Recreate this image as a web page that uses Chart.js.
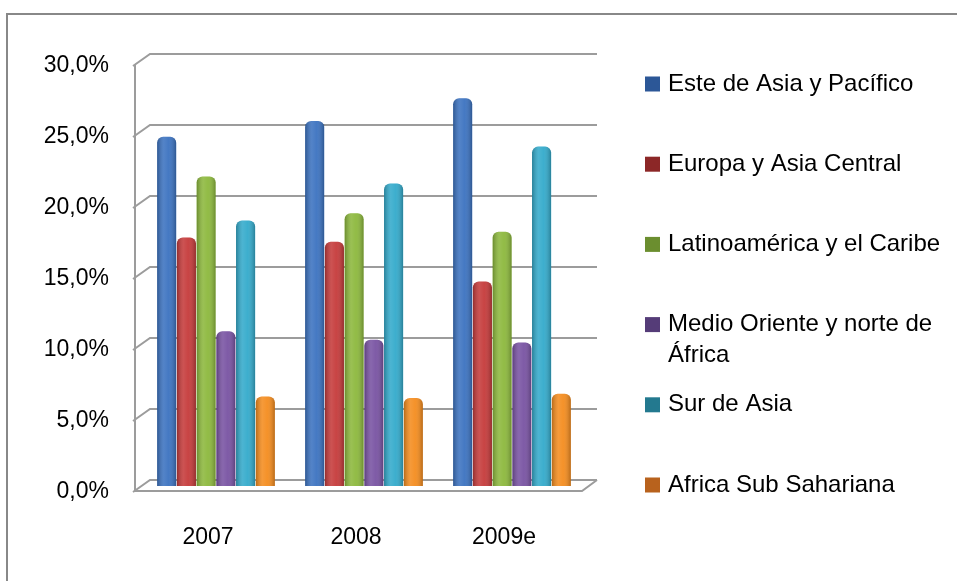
<!DOCTYPE html>
<html>
<head>
<meta charset="utf-8">
<script src="https://cdn.jsdelivr.net/npm/chart.js@4"></script>
<style>
  html, body { margin: 0; padding: 0; background: #fff; }
  #wrap { width: 957px; height: 581px; position: relative; }
</style>
</head>
<body>
<div id="wrap"><canvas id="chart"></canvas></div>
<script>
// data
const years = ['2007', '2008', '2009e'];
const esteAsiaPacifico = [24.6, 25.7, 27.3];
const europaAsiaCentral = [17.5, 17.2, 14.4];
const latinoamericaCaribe = [21.8, 19.2, 17.9];
const medioOrienteNorteAfrica = [10.9, 10.3, 10.1];
const surDeAsia = [18.7, 21.3, 23.9];
const africaSubSahariana = [6.3, 6.2, 6.5];

const seriesNames = [
    'Este de Asia y Pacífico',
    'Europa y Asia Central',
    'Latinoamérica y el Caribe',
    ['Medio Oriente y norte de', 'África'],
    'Sur de Asia',
    'Africa Sub Sahariana'
];
const seriesValues = [esteAsiaPacifico, europaAsiaCentral, latinoamericaCaribe,
    medioOrienteNorteAfrica, surDeAsia, africaSubSahariana];

const barColors = ['#3B72C0', '#C53A3A', '#8CB83C', '#7852A2', '#33AACB', '#F48C1E'];
const legendColors = ['#2C5797', '#8C2727', '#6B8E2F', '#553C78', '#23798F', '#B8621D'];

const FONT = "'Liberation Sans', Arial, sans-serif";

// outer frame, only top and left edges are visible
const framePlugin = {
    id: 'frame',
    beforeDraw(chart) {
        const ctx = chart.ctx;
        ctx.save();
        ctx.strokeStyle = '#888';
        ctx.lineWidth = 2;
        ctx.beginPath();
        ctx.moveTo(7, chart.height);
        ctx.lineTo(7, 14);
        ctx.lineTo(chart.width, 14);
        ctx.stroke();
        ctx.restore();
    }
};

// fake 3D walls: back gridlines, left wall, floor
const wallPlugin = {
    id: 'wall',
    beforeDatasetsDraw(chart) {
        const ctx = chart.ctx;
        const y = chart.scales.y;
        const area = chart.chartArea;
        const depthX = 15;
        const frontX = area.left - 7;
        const backRight = area.right + 11;
        ctx.save();
        ctx.strokeStyle = '#9c9c9c';
        ctx.lineWidth = 2;
        y.ticks.forEach(t => {
            const p = y.getPixelForValue(t.value);
            const yb = p - 6, yf = p + 5;
            ctx.beginPath();
            ctx.moveTo(frontX - 2, yf + 1);
            ctx.lineTo(frontX + depthX, yb);
            ctx.lineTo(backRight, yb);
            ctx.stroke();
        });
        const top = y.getPixelForValue(y.max) + 5;
        const zero = y.getPixelForValue(0);
        ctx.beginPath();
        ctx.moveTo(frontX, top);
        ctx.lineTo(frontX, zero + 5);
        ctx.lineTo(backRight - depthX, zero + 5);
        ctx.lineTo(backRight, zero - 6);
        ctx.stroke();
        ctx.restore();
    }
};

// cylinder shading on top of the flat bars
const shadePlugin = {
    id: 'shade',
    afterDatasetsDraw(chart) {
        const ctx = chart.ctx;
        ctx.save();
        ctx.globalCompositeOperation = 'source-atop';
        chart.data.datasets.forEach((ds, i) => {
            chart.getDatasetMeta(i).data.forEach(bar => {
                const left = bar.x - bar.width / 2;
                const g = ctx.createLinearGradient(left, 0, left + bar.width, 0);
                g.addColorStop(0, 'rgba(0,0,0,0.25)');
                g.addColorStop(0.35, 'rgba(255,255,255,0.12)');
                g.addColorStop(0.6, 'rgba(255,255,255,0.05)');
                g.addColorStop(1, 'rgba(0,0,0,0.25)');
                ctx.fillStyle = g;
                ctx.fillRect(left, bar.y, bar.width, bar.base - bar.y);
            });
        });
        ctx.restore();
    }
};

// legend on the right, spaced like the original
const legendPlugin = {
    id: 'sideLegend',
    afterDraw(chart) {
        const ctx = chart.ctx;
        const x0 = 645, y0 = 84, step = 80.2, box = 15;
        ctx.save();
        ctx.font = '24px ' + FONT;
        ctx.textBaseline = 'middle';
        seriesNames.forEach((name, i) => {
            const cy = y0 + i * step;
            ctx.fillStyle = legendColors[i];
            ctx.fillRect(x0, cy - box / 2, box, box);
            ctx.fillStyle = '#000';
            const lines = Array.isArray(name) ? name : [name];
            lines.forEach((line, j) => ctx.fillText(line, x0 + 23, cy + j * 31));
        });
        ctx.restore();
    }
};

new Chart(document.getElementById('chart'), {
    type: 'bar',
    data: {
        labels: years,
        datasets: seriesValues.map((vals, i) => ({
            label: Array.isArray(seriesNames[i]) ? seriesNames[i].join(' ') : seriesNames[i],
            data: vals,
            backgroundColor: barColors[i],
            borderRadius: { topLeft: 6, topRight: 6 },
            borderSkipped: 'bottom',
            categoryPercentage: 0.8,
            barPercentage: 0.97
        }))
    },
    options: {
        responsive: true,
        maintainAspectRatio: false,
        animation: false,
        layout: { padding: { top: 60, right: 371, bottom: 0, left: 0 } },
        plugins: {
            legend: { display: false },
            title: { display: false },
            tooltip: { enabled: false }
        },
        scales: {
            x: {
                grid: { display: false, drawTicks: false },
                border: { display: false },
                afterFit: s => { s.height = 95; },
                ticks: {
                    padding: 38,
                    labelOffset: -8,
                    color: '#000',
                    font: { family: FONT, size: 23 }
                }
            },
            y: {
                min: 0,
                max: 30,
                grid: { display: false, drawTicks: false },
                border: { display: false },
                afterFit: s => { s.width = 142; },
                ticks: {
                    stepSize: 5,
                    padding: 33,
                    labelOffset: 6,
                    color: '#000',
                    font: { family: FONT, size: 23 },
                    callback: v => v.toFixed(1).replace('.', ',') + '%'
                }
            }
        }
    },
    plugins: [framePlugin, wallPlugin, shadePlugin, legendPlugin]
});
</script>
</body>
</html>
